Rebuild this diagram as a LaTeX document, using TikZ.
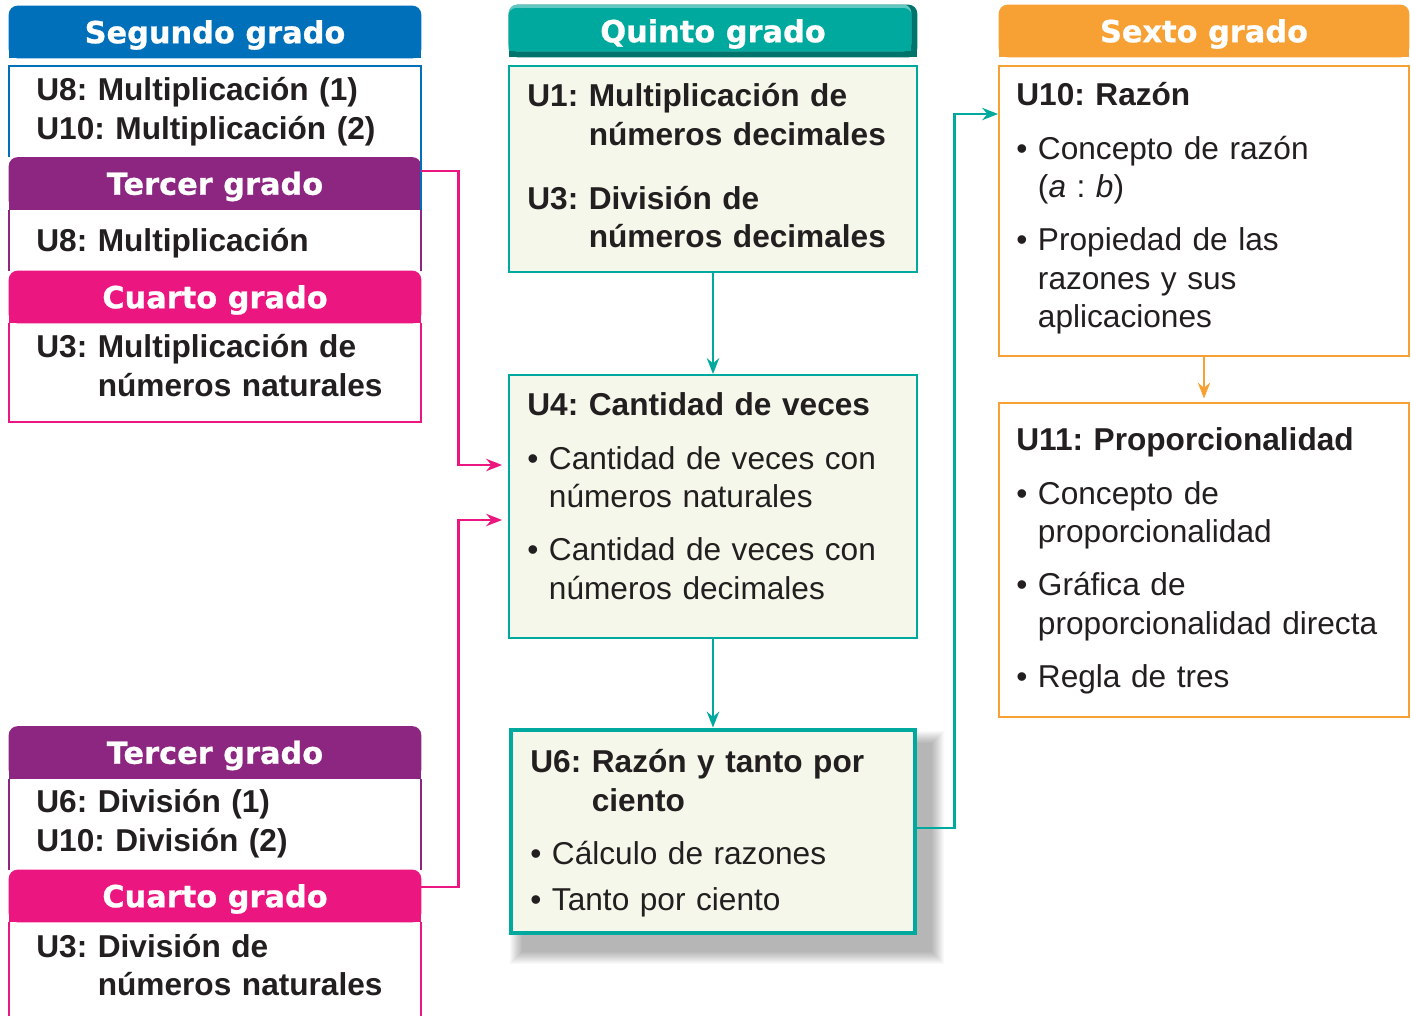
\documentclass[tikz,border=0pt]{standalone}
\usepackage{fontspec}
\setmainfont{Liberation Sans}
\newfontfamily\gradofont{DejaVu Sans}[BoldFeatures={FakeBold=0.8}]
\usetikzlibrary{positioning,fit,arrows.meta,backgrounds}

\definecolor{segundo}{RGB}{0,112,186}
\definecolor{tercero}{RGB}{140,38,129}
\definecolor{cuarto}{RGB}{236,22,128}
\definecolor{quinto}{RGB}{0,169,157}
\definecolor{quintoosc}{RGB}{0,116,108}
\definecolor{quintocla}{RGB}{96,200,192}
\definecolor{sexto}{RGB}{247,161,52}
\definecolor{fondo}{RGB}{244,247,233}
\definecolor{tinta}{RGB}{35,31,32}

\newcommand\unidad[2]{\setbox0\hbox{\bfseries #1\ }\hangindent\wd0\hangafter1\noindent\box0{\bfseries #2}\par}
\newcommand\vineta[1]{\setbox0\hbox{\textbullet\ }\hangindent\wd0\hangafter1\noindent\box0 #1\par}

\begin{document}
\begin{tikzpicture}[x=0.02cm, y=-0.02cm, >={Stealth[length=9pt,width=7pt]},
  grado/.style={inner sep=0pt, text=white, minimum height=1.04cm, font=\gradofont\bfseries\fontsize{17.3}{20}\selectfont, text height=12.8pt, text depth=0pt},
  caja/.style={draw=#1, line width=1.1pt, inner sep=0pt, fill=fondo},
  texto/.style={anchor=base west, inner sep=0pt, text width=7.6cm, align=left, text=tinta, font=\fontsize{18}{21.8}\selectfont\frenchspacing},
  flecha/.style={->, draw=#1, line width=1.4pt},
  borde/.style={draw=#1, line width=1.1pt}]

\useasboundingbox (0,0) rectangle (1411,1016);

% encabezados
\node[grado, minimum width=8.24cm] (seg) at (215,32) {Segundo grado};
\node[grado, minimum width=8.24cm] (ter1) at (215,183.5) {Tercer grado};
\node[grado, minimum width=8.24cm] (cua1) at (215,297) {Cuarto grado};
\node[grado, minimum width=8.24cm] (ter2) at (215,752.5) {Tercer grado};
\node[grado, minimum width=8.24cm] (cua2) at (215,896) {Cuarto grado};
\node[grado, minimum width=8.16cm] (quin) at (713,31) {Quinto grado};
\node[grado, minimum width=8.2cm] (sex) at (1204,31) {Sexto grado};

% bordes de la columna izquierda
\draw[borde=segundo] (9,157) -- (9,66) -- (421,66) -- (421,210);
\draw[borde=tercero] (9,210) -- (9,271) (421,210) -- (421,271);
\draw[borde=cuarto] (9,323) -- (9,422) -- (421,422) -- (421,323);
\draw[borde=tercero] (9,779) -- (9,870) (421,779) -- (421,870);
\draw[borde=cuarto] (9,922) -- (9,1030) (421,922) -- (421,1030);

% cajas
\node[caja=quinto, fit={(509,66) (917,272)}] (u1) {};
\node[caja=quinto, fit={(509,375) (917,638)}] (u4) {};
\node[caja=quinto, line width=2.8pt, fit={(511,730) (915,933)}] (u6) {};
\node[caja=sexto, fill=white, fit={(999,66) (1409,356)}] (u10) {};
\node[caja=sexto, fill=white, fit={(999,403) (1409,717)}] (u11) {};

% textos
\node[texto] (segU) at (36,101) {\textbf{U8: Multiplicación (1)\newline U10: Multiplicación (2)}};
\node[texto] (ter1U) at (36,252) {\textbf{U8: Multiplicación}};
\node[texto] (cua1U) at (36,358) {\unidad{U3:}{Multiplicación de\newline números naturales}};
\node[texto] (ter2U) at (36,813) {\textbf{U6: División (1)\newline U10: División (2)}};
\node[texto] (cua2U) at (36,957) {\unidad{U3:}{División de\newline números naturales}};

\node[texto] (u1T) at (527,107) {\unidad{U1:}{Multiplicación de\newline números decimales}\vspace{14.5pt}\unidad{U3:}{División de\newline números decimales}};
\node[texto] (u4T) at (527,416) {\textbf{U4: Cantidad de veces}\par\vspace{8.5pt}\vineta{Cantidad de veces con\newline números naturales}\vspace{8.5pt}\vineta{Cantidad de veces con\newline números decimales}};
\node[texto] (u6T) at (530,773) {\unidad{U6:}{Razón y tanto por\newline ciento}\vspace{8.5pt}\vineta{Cálculo de razones}\vspace{4.3pt}\vineta{Tanto por ciento}};
\node[texto] (u10T) at (1016,106) {\textbf{U10: Razón}\par\vspace{8.5pt}\vineta{Concepto de razón\newline (\textit{a} : \textit{b})}\vspace{8.5pt}\vineta{Propiedad de las\newline razones y sus\newline aplicaciones}};
\node[texto] (u11T) at (1016,451) {\textbf{U11: Proporcionalidad}\par\vspace{8.5pt}\vineta{Concepto de\newline proporcionalidad}\vspace{8.5pt}\vineta{Gráfica de\newline proporcionalidad directa}\vspace{8.5pt}\vineta{Regla de tres}};

% flechas
\draw[flecha=cuarto] ([yshift=0.25cm]ter1.east) -- ++(37,0) |- ([xshift=-0.12cm, yshift=0.83cm]u4.west);
\draw[flecha=cuarto] ([yshift=0.18cm]cua2.east) -- ++(37,0) |- ([xshift=-0.12cm, yshift=-0.27cm]u4.west);
\draw[flecha=quinto] (u1) -- (u4);
\draw[flecha=quinto] (u4) -- (u6);
\draw[flecha=quinto] ([yshift=0.07cm]u6.east) -- ++(37,0) |- ([yshift=1.94cm]u10.west);
\draw[flecha=sexto, shorten >=2pt] (u10) -- (u11);

\begin{scope}[on background layer]
  \fill[white] (0,0) rectangle (1411,1016);
  \foreach \g/\c in {seg/segundo, ter1/tercero, cua1/cuarto, ter2/tercero, cua2/cuarto, sex/sexto}{
    \fill[\c, rounded corners=0.18cm] (\g.south west) rectangle (\g.north east);
    \fill[\c] (\g.south west) rectangle (\g.east);
  }
  % encabezado con relieve
  \fill[quintoosc, rounded corners=0.18cm] (quin.south west) rectangle (quin.north east);
  \fill[quintoosc] (quin.south west) rectangle (quin.east);
  \fill[quintocla, rounded corners=0.16cm] ([yshift=0.12cm]quin.south west) rectangle ([xshift=-0.12cm]quin.north east);
  \fill[quinto, rounded corners=0.14cm] ([yshift=0.12cm]quin.south west) rectangle ([xshift=-0.12cm, yshift=-0.07cm]quin.north east);
  \fill[quinto] ([yshift=0.12cm]quin.south west) rectangle ([xshift=-0.12cm]quin.east);
  % sombra
  \foreach \e in {1,...,13}
    \fill[black, opacity=0.022] ([xshift={(14-\e)*0.02cm}, yshift={-(16+\e)*0.02cm}]u6.south west) rectangle ([xshift={(14+\e)*0.02cm}, yshift={-(16-\e)*0.02cm}]u6.north east);
\end{scope}
\end{tikzpicture}
\end{document}
